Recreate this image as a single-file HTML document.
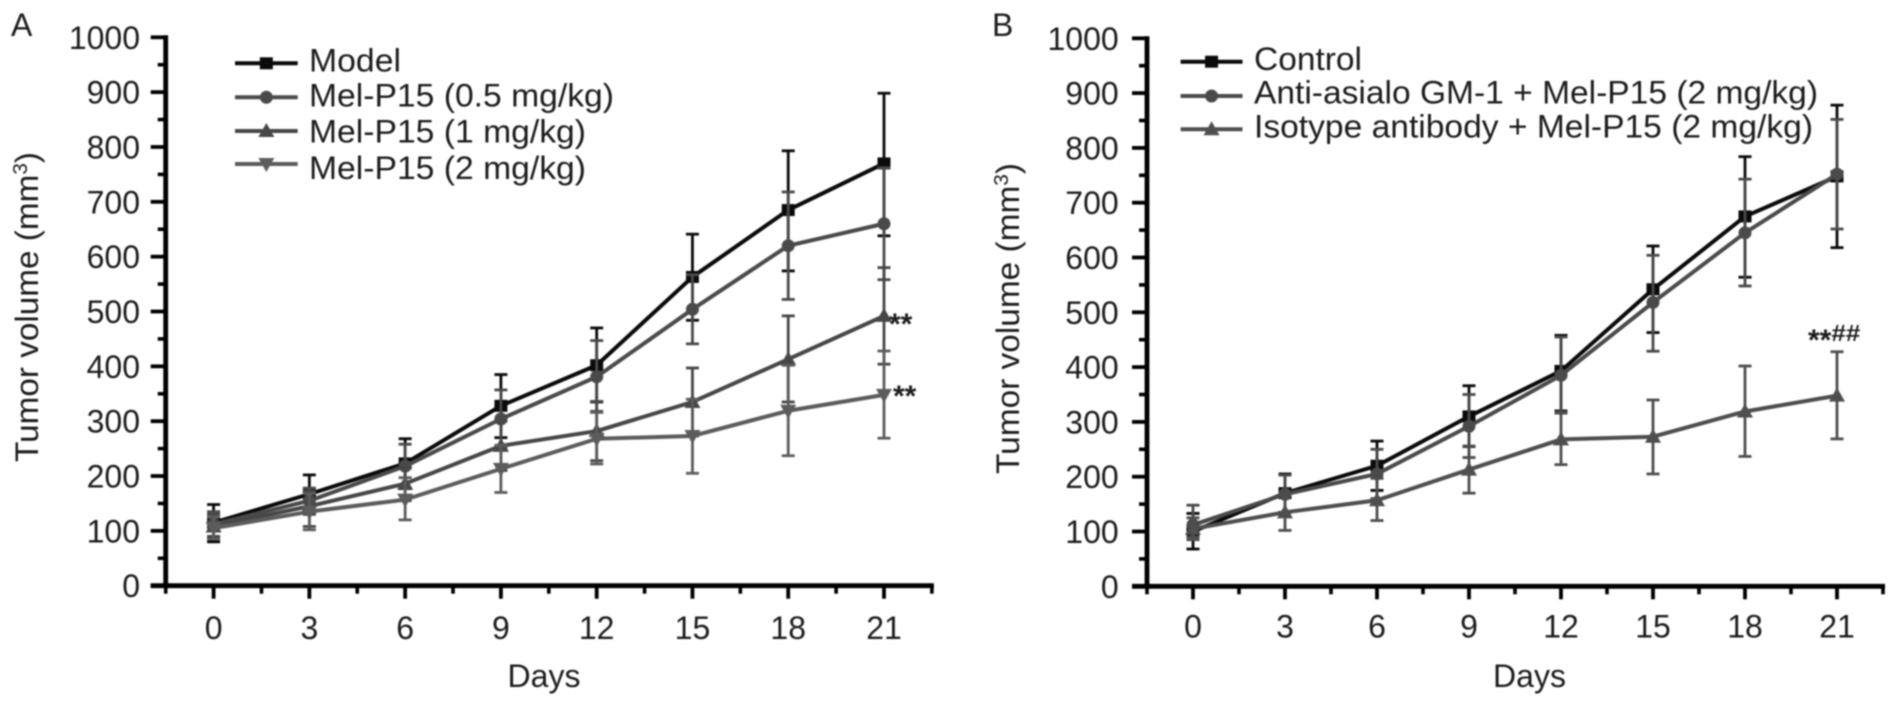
<!DOCTYPE html>
<html lang="en">
<head>
<meta charset="utf-8">
<title>Tumor volume charts</title>
<style>
  html, body { margin: 0; padding: 0; background: #fff; }
  body { width: 1894px; height: 708px; overflow: hidden; }
  svg { display: block; filter: blur(0.7px); }
  text { font-family: "Liberation Sans", Arial, sans-serif; fill: #1c1c1c; }
</style>
</head>
<body>
<svg id="figure" xmlns="http://www.w3.org/2000/svg" width="1894" height="708" viewBox="0 0 1894 708">
  <rect x="0" y="0" width="1894" height="708" fill="#ffffff"/>
  <text x="11" y="36" font-size="32">A</text>
  <text x="992" y="36" font-size="32">B</text>
  <text transform="translate(38,462) rotate(-90)" font-size="32" textLength="310" lengthAdjust="spacingAndGlyphs">Tumor volume (mm<tspan font-size="20" dy="-11">3</tspan><tspan dy="11">)</tspan></text>
  <text transform="translate(1019,474) rotate(-90)" font-size="32" textLength="311" lengthAdjust="spacingAndGlyphs">Tumor volume (mm<tspan font-size="20" dy="-11">3</tspan><tspan dy="11">)</tspan></text>
  <text x="544" y="687" font-size="32" text-anchor="middle">Days</text>
  <text x="1529.5" y="687" font-size="32" text-anchor="middle">Days</text>
  <text x="889" y="334" font-size="30" font-weight="bold">**</text>
  <text x="893" y="406" font-size="30" font-weight="bold">**</text>
  <text x="1808" y="350" font-size="30" font-weight="bold">**<tspan font-size="23" dy="-9" textLength="29" lengthAdjust="spacingAndGlyphs">##</tspan></text>
</svg>
<script>
/* ---------- shared axis data ---------- */
var dayTicks = [0, 3, 6, 9, 12, 15, 18, 21];
var dayMinorTicks = [-1.5, 1.5, 4.5, 7.5, 10.5, 13.5, 16.5, 19.5, 22.5];
var volumeTicks = [0, 100, 200, 300, 400, 500, 600, 700, 800, 900, 1000];
var volumeMinorTicks = [50, 150, 250, 350, 450, 550, 650, 750, 850, 950];

/* ---------- panel A data ---------- */
var modelValues = [115, 167, 223, 328, 402, 563, 685, 770];
var modelUpper  = [148, 202, 268, 385, 470, 641, 793, 898];
var modelLower  = [ 80, 132, 177, 270, 335, 484, 574, 638];

var mel05Values = [112, 155, 218, 304, 381, 504, 620, 660];
var mel05Upper  = [135, 178, 258, 357, 447, 567, 718, 762];
var mel05Lower  = [ 90, 130, 178, 250, 318, 441, 522, 558];

var mel1Values  = [108, 145, 186, 255, 282, 335, 413, 492];
var mel1Upper   = [130, 172, 215, 300, 336, 397, 492, 580];
var mel1Lower   = [ 88, 108, 155, 210, 228, 273, 335, 404];

var mel2Values  = [105, 135, 157, 213, 268, 273, 319, 348];
var mel2Upper   = [125, 168, 197, 256, 316, 340, 402, 428];
var mel2Lower   = [ 85, 102, 120, 170, 222, 205, 237, 269];

var panelALegend = ["Model", "Mel-P15 (0.5 mg/kg)", "Mel-P15 (1 mg/kg)", "Mel-P15 (2 mg/kg)"];

/* ---------- panel B data ---------- */
var controlValues = [100, 170, 220, 310, 393, 542, 675, 748];
var controlUpper  = [133, 205, 265, 366, 458, 621, 784, 878];
var controlLower  = [ 68, 135, 175, 255, 320, 463, 564, 618];

var antiValues = [112, 168, 205, 292, 385, 518, 645, 752];
var antiUpper  = [148, 203, 250, 350, 455, 604, 743, 852];
var antiLower  = [ 90, 135, 160, 235, 318, 429, 548, 652];

var isotypeValues = [105, 135, 157, 213, 268, 273, 319, 348];
var isotypeUpper  = [125, 168, 197, 256, 316, 340, 402, 428];
var isotypeLower  = [ 85, 102, 120, 170, 222, 205, 237, 269];

var panelBLegend = ["Control", "Anti-asialo GM-1 + Mel-P15 (2 mg/kg)", "Isotype antibody + Mel-P15 (2 mg/kg)"];

/* ---------- drawing ---------- */
var NS = "http://www.w3.org/2000/svg";
var figure = document.getElementById("figure");

function create(tag, parent, attrs, name) {
  var el = document.createElementNS(NS, tag);
  for (var k in attrs) { el.setAttribute(k, attrs[k]); }
  
  
  parent.appendChild(el);
  return el;
}

function seg(parent, x1, y1, x2, y2, w, color, name) {
  return create("line", parent, {x1: x1, y1: y1, x2: x2, y2: y2, stroke: color, "stroke-width": w}, name);
}

function label(parent, x, y, str, anchor, size, name, fitWidth) {
  var attrs = {x: x, y: y, "font-size": size, "text-anchor": anchor};
  if (fitWidth) { attrs.textLength = fitWidth; attrs.lengthAdjust = "spacingAndGlyphs"; }
  var el = create("text", parent, attrs, name);
  el.textContent = str;
  return el;
}

function marker(parent, kind, x, y, color, name) {
  if (kind === "square") {
    return create("rect", parent, {x: x - 6.5, y: y - 6, width: 13, height: 12, fill: color}, name);
  }
  if (kind === "circle") {
    return create("circle", parent, {cx: x, cy: y, r: 6.5, fill: color}, name);
  }
  var d = kind === "up"
    ? [[x, y - 8], [x + 8, y + 6], [x - 8, y + 6]]
    : [[x, y + 8], [x + 8, y - 6], [x - 8, y - 6]];
  return create("polygon", parent, {points: d.map(function (p) { return p.join(","); }).join(" "), fill: color}, name);
}

function drawPanel(cfg) {
  var g = create("g", figure, {}, cfg.id + "-chart");
  var pxPerDay = (cfg.x21 - cfg.x0) / 21;
  function xScale(d) { return cfg.x0 + d * pxPerDay; }
  function yScale(v) { return cfg.y0 + (cfg.y1000 - cfg.y0) * v / 1000; }

  cfg.series.forEach(function (s) {
    var sg = create("g", g, {}, cfg.id + "-series-" + s.key);
    s.values.forEach(function (v, i) {
      var x = xScale(dayTicks[i]);
      seg(sg, x, yScale(s.upper[i]), x, yScale(s.lower[i]), 2.8, s.color, s.key + "-error-bar-day-" + dayTicks[i]);
      seg(sg, x - 6.5, yScale(s.upper[i]), x + 6.5, yScale(s.upper[i]), 2.8, s.color, s.key + "-error-cap-upper-day-" + dayTicks[i]);
      seg(sg, x - 6.5, yScale(s.lower[i]), x + 6.5, yScale(s.lower[i]), 2.8, s.color, s.key + "-error-cap-lower-day-" + dayTicks[i]);
    });
    var pts = s.values.map(function (v, i) { return xScale(dayTicks[i]) + "," + yScale(v); }).join(" ");
    create("polyline", sg, {points: pts, fill: "none", stroke: s.color, "stroke-width": 4, "stroke-linejoin": "round"}, s.key + "-line");
    s.values.forEach(function (v, i) {
      marker(sg, s.marker, xScale(dayTicks[i]), yScale(v), s.color, s.key + "-point-day-" + dayTicks[i]);
    });
  });

  /* axes */
  var xStart = xScale(-1.5), xEnd = xScale(22.5);
  seg(g, xStart, yScale(1000) - 2, xStart, yScale(0) + 2, 4.8, "#000", cfg.id + "-y-axis");
  seg(g, xStart - 15, yScale(0), xEnd + 2, yScale(0), 4.8, "#000", cfg.id + "-x-axis");
  volumeTicks.forEach(function (v) {
    seg(g, xStart - 15, yScale(v), xStart, yScale(v), 3.8, "#000", cfg.id + "-y-tick-" + v);
    label(g, cfg.yLabelX, yScale(v) + 11.5, String(v), "end", 32, cfg.id + "-y-tick-label-" + v);
  });
  volumeMinorTicks.forEach(function (v) {
    seg(g, xStart - 8, yScale(v), xStart, yScale(v), 3.6, "#000", cfg.id + "-y-minor-tick-" + v);
  });
  dayTicks.forEach(function (d) {
    seg(g, xScale(d), yScale(0), xScale(d), yScale(0) + 13, 3.8, "#000", cfg.id + "-x-tick-" + d);
    label(g, xScale(d), cfg.xLabelY, String(d), "middle", 32, cfg.id + "-x-tick-label-" + d);
  });
  dayMinorTicks.forEach(function (d) {
    seg(g, xScale(d), yScale(0), xScale(d), yScale(0) + 8, 3.6, "#000", cfg.id + "-x-minor-tick-" + d);
  });

  /* legend */
  cfg.series.forEach(function (s, i) {
    var row = create("g", g, {}, cfg.id + "-legend-entry-" + s.key);
    var ly = cfg.legendLineY[i];
    seg(row, cfg.legendX1, ly, cfg.legendX2, ly, 4, s.color, s.key + "-legend-line");
    marker(row, s.marker, (cfg.legendX1 + cfg.legendX2) / 2, ly, s.color, s.key + "-legend-marker");
    label(row, cfg.legendTextX, cfg.legendTextY[i], cfg.legend[i], "start", 32, s.key + "-legend-label", cfg.legendWidths[i]);
  });
}

drawPanel({
  id: "panel-a", x0: 213.6, x21: 884, y0: 585.7, y1000: 37.3,
  yLabelX: 140, xLabelY: 639,
  legend: panelALegend,
  legendX1: 235, legendX2: 297.7, legendTextX: 309,
  legendLineY: [63.3, 97.3, 131, 164], legendTextY: [71.7, 106.5, 142.5, 179],
  legendWidths: [92, 305, 277, 277],
  series: [
    {key: "model", values: modelValues, upper: modelUpper, lower: modelLower, color: "#0a0a0a", marker: "square"},
    {key: "mel-p15-0-5", values: mel05Values, upper: mel05Upper, lower: mel05Lower, color: "#4a4a4a", marker: "circle"},
    {key: "mel-p15-1", values: mel1Values, upper: mel1Upper, lower: mel1Lower, color: "#474747", marker: "up"},
    {key: "mel-p15-2", values: mel2Values, upper: mel2Upper, lower: mel2Lower, color: "#5c5c5c", marker: "down"}
  ]
});

drawPanel({
  id: "panel-b", x0: 1193, x21: 1837, y0: 586.3, y1000: 38.3,
  yLabelX: 1118.7, xLabelY: 637.5,
  legend: panelBLegend,
  legendX1: 1180.6, legendX2: 1242.5, legendTextX: 1254,
  legendLineY: [61.7, 96, 129.3], legendTextY: [70, 103.3, 137.3],
  legendWidths: [108, 564, 559],
  series: [
    {key: "control", values: controlValues, upper: controlUpper, lower: controlLower, color: "#0a0a0a", marker: "square"},
    {key: "anti-asialo", values: antiValues, upper: antiUpper, lower: antiLower, color: "#4a4a4a", marker: "circle"},
    {key: "isotype", values: isotypeValues, upper: isotypeUpper, lower: isotypeLower, color: "#4e4e4e", marker: "up"}
  ]
});
</script>
</body>
</html>
